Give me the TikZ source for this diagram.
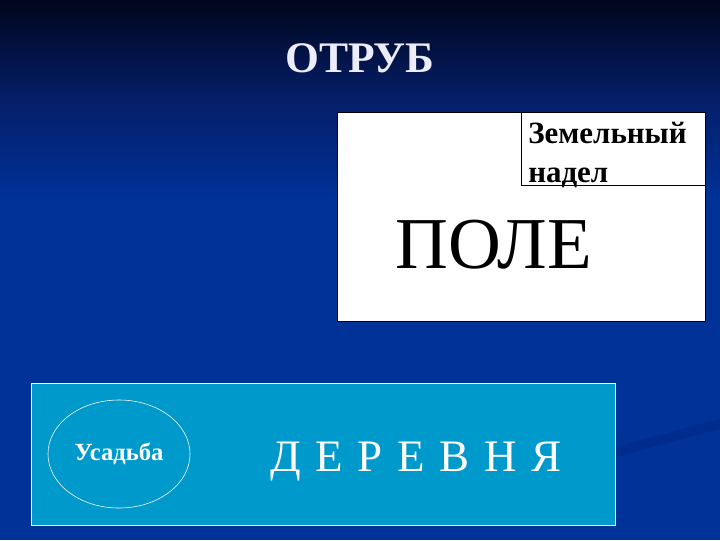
\documentclass[tikz,border=0pt]{standalone}
\usepackage{fontspec}
\setmainfont{Liberation Serif}
\usetikzlibrary{shapes.geometric}

\definecolor{bgtop}{RGB}{1,6,28}
\definecolor{bgmid}{RGB}{4,30,105}
\definecolor{bgmain}{RGB}{0,50,152}
\definecolor{bgstreak}{RGB}{0,40,132}
\definecolor{villagecol}{RGB}{0,153,204}
\definecolor{titlecol}{RGB}{236,236,250}

\tikzstyle{plot}=[shape=rectangle,draw=black,fill=white,line width=0.6pt,inner sep=0pt]
\tikzstyle{village}=[shape=rectangle,draw=white,fill=villagecol,line width=0.5pt,inner sep=0pt]
\tikzstyle{estate}=[shape=ellipse,draw=white,line width=0.4pt,inner sep=0pt]

\begin{document}
\begin{tikzpicture}[x=0.025cm,y=-0.025cm]
        \useasboundingbox (0,0) rectangle (720,540);
        % background
        \fill[bgmain] (0,0) rectangle (720,540);
        \shade[top color=bgtop,bottom color=bgmain,middle color=bgmid] (0,0) rectangle (720,200);
        \begin{scope}
            \clip (0,0) rectangle (720,540);
            \draw[bgstreak,line width=7pt,opacity=0.5] (615,452) .. controls (660,440) and (690,432) .. (730,421);
        \end{scope}

        % title
        \node[text=titlecol,font=\bfseries\fontsize{31}{36}\selectfont] (title) at (360,58) {ОТРУБ};

        % field with the allotment
        \node[plot,minimum width=9.1875cm,minimum height=5.225cm] (field) at (521.25,216.5) {};
        \node[plot,anchor=north east,minimum width=4.5875cm,minimum height=1.825cm] (allot) at (field.north east) {};
        \node[anchor=base west,inner sep=0pt,align=left,
            font=\bfseries\fontsize{22}{27.3}\selectfont] (allottxt) at (528,182) {Земельный\\надел};
        \node[font=\fontsize{52}{57}\selectfont,anchor=base] (fieldtxt) at (494,268) {ПОЛЕ};

        % village with the estate
        \node[village,minimum width=14.6cm,minimum height=3.55cm] (village) at (323,454) {};
        \node[estate,minimum width=3.55cm,minimum height=2.7cm,text=white,
            font=\bfseries\fontsize{17.5}{20}\selectfont] (estate) at (119,454) {Усадьба};
        \node[text=white,font=\fontsize{32}{36}\selectfont,anchor=base] (villagetxt) at (416,471) {\spaceskip=10.5pt Д Е Р Е В Н Я};
    \end{tikzpicture}
\end{document}
